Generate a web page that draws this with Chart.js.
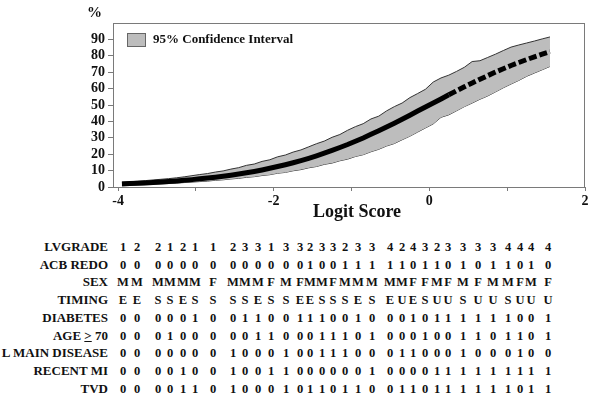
<!DOCTYPE html>
<html>
<head>
<meta charset="utf-8">
<script src="https://cdn.jsdelivr.net/npm/chart.js@4.4.0/dist/chart.umd.min.js"></script>
<style>
  body { margin: 0; background: #fff; }
  #page { position: relative; width: 600px; height: 402px; overflow: hidden;
          font-family: 'Liberation Serif', 'Times New Roman', serif; font-weight: bold; color: #111; }
  #chartBox { position: absolute; left: 0; top: 0; width: 600px; height: 230px; }
  .txt { position: absolute; white-space: nowrap; }
  .legendBox { position: absolute; left: 127px; top: 33px; width: 17px; height: 12px;
               background: #bdbdbd; border: 1px solid #666; }
  .rowLabel { position: absolute; right: 492px; font-size: 13px; line-height: 16px; white-space: nowrap; }
  .cell { position: absolute; width: 16px; margin-left: -8px; text-align: center;
          font-size: 12.5px; line-height: 16px; }
</style>
</head>
<body>
<div id="page">
  <div id="chartBox"><canvas id="logitChart"></canvas></div>
  <div class="txt" style="left:87px; top:4px; font-size:15px;">%</div>
  <div class="legendBox"></div>
  <div class="txt" style="left:153px; top:31px; font-size:13px;">95% Confidence Interval</div>
  <div class="txt" style="left:357px; top:201px; font-size:18px; transform:translateX(-50%);">Logit Score</div>
  <div id="table"></div>
</div>
<script>
// logit score positions of the plotted estimates
const logit = [-3.95,-3.85,-3.75,-3.65,-3.55,-3.45,-3.35,-3.25,-3.15,-3.05,
  -2.95,-2.85,-2.75,-2.65,-2.55,-2.45,-2.35,-2.25,-2.15,-2.05,
  -1.95,-1.85,-1.75,-1.65,-1.55,-1.45,-1.35,-1.25,-1.15,-1.05,
  -0.95,-0.85,-0.75,-0.65,-0.55,-0.45,-0.35,-0.25,-0.15,-0.05,
  0.05,0.15,0.25,0.35,0.45,0.55,0.65,0.75,0.85,0.95,
  1.05,1.15,1.25,1.35,1.45,1.55];
// predicted mortality (%)
const meanPct = [1.9,2.1,2.3,2.5,2.8,3.1,3.4,3.7,4.1,4.5,
  5.0,5.5,6.0,6.6,7.2,7.9,8.7,9.5,10.4,11.4,
  12.5,13.6,14.8,16.1,17.5,19.0,20.6,22.3,24.1,25.9,
  27.9,29.9,32.1,34.3,36.6,38.9,41.3,43.8,46.3,48.8,
  51.2,53.7,56.2,58.7,61.1,63.4,65.7,67.9,70.1,72.1,
  74.1,75.9,77.7,79.4,81.0,82.5];
// 95% confidence interval, upper and lower edge (%)
const upperPct = [3.0,3.2,3.5,3.9,4.3,4.7,5.1,5.6,6.2,6.9,
  7.6,8.2,9.1,9.8,10.9,11.8,13.2,14.0,15.6,16.6,
  18.4,19.5,21.3,22.6,24.5,26.4,28.0,30.3,32.0,34.6,
  36.8,38.6,41.5,43.2,46.4,49.0,51.2,54.5,57.0,59.6,
  64.0,66.5,68.2,70.5,73.0,76.5,77.0,79.0,81.0,83.2,
  85.3,86.6,87.8,89.0,90.3,91.5];
const lowerPct = [0.9,1.1,1.3,1.5,1.7,1.9,2.1,2.4,2.7,3.0,
  3.3,3.6,4.1,4.4,4.9,5.3,5.9,6.3,7.0,7.5,
  8.4,8.9,9.9,10.6,11.7,12.5,13.8,14.6,16.0,17.0,
  18.6,19.7,21.5,23.0,25.0,26.5,28.8,31.0,33.5,36.0,
  38.5,42.5,44.0,46.5,49.0,51.2,53.5,55.5,58.0,60.5,
  62.8,65.0,67.5,69.5,71.5,73.5];

const xTicks = [-4, -3, -2, -1, 0, 1, 2];
const xTickLabels = ['-4', '', '-2', '', '0', '', '2'];
const yTicks = [0, 10, 20, 30, 40, 50, 60, 70, 80, 90];

// patient profile table under the chart
const rowNames = ['LVGRADE', 'ACB REDO', 'SEX', 'TIMING', 'DIABETES', 'AGE \u2265 70', 'L MAIN DISEASE', 'RECENT MI', 'TVD'];
const lvgrade  = [1,2,2,1,2,1,1,2,3,3,1,3,3,2,3,3,2,3,3,4,2,4,3,2,3,3,3,3,4,4,4,4];
const acbRedo  = [0,0,0,0,0,0,0,0,0,0,0,0,0,1,0,0,1,1,1,1,1,0,1,1,0,1,0,1,1,0,1,0];
const sex      = ['M','M','M','M','M','M','F','M','M','M','F','M','F','M','M','F','M','M','M','M','M','F','F','M','F','M','F','M','M','F','M','F'];
const timing   = ['E','E','S','S','E','S','S','S','S','E','S','S','E','E','S','S','S','E','S','E','U','E','S','U','U','S','U','U','S','U','U','U'];
const diabetes = [0,0,0,0,0,1,0,0,1,1,0,0,1,1,1,0,0,1,0,0,0,1,0,1,1,1,1,1,1,0,0,1];
const age70    = [0,0,0,1,0,0,0,0,0,1,1,0,0,0,1,1,1,0,1,0,0,0,1,0,0,1,1,0,1,1,0,1];
const lMain    = [0,0,0,0,0,0,0,1,0,0,0,1,0,0,1,1,1,0,0,0,1,1,0,0,0,1,0,0,0,1,0,0];
const recentMi = [0,0,0,0,1,0,0,1,0,0,1,1,0,0,0,0,0,0,1,0,0,0,0,1,1,1,1,1,1,1,1,1];
const tvd      = [0,0,0,0,1,1,0,1,0,0,0,1,0,1,1,0,1,1,0,0,1,1,0,1,1,1,1,1,1,0,1,1];

// layout of the table (pixels)
const colX = [123,137,158,170,183,195,213,233,245,258,271,286,
  300,310,322,333,345,358,372,390,402,413,425,437,448,463,478,493,508,520,531,548];
const rowTop = 247, rowStep = 17.7;

const rows = [lvgrade, acbRedo, sex, timing, diabetes, age70, lMain, recentMi, tvd];
const table = document.getElementById('table');
rows.forEach((vals, r) => {
  const y = rowTop + r * rowStep - 8;
  const lab = document.createElement('div');
  lab.className = 'rowLabel';
  lab.style.top = y + 'px';
  if (r === 5) lab.innerHTML = 'AGE <span style="text-decoration:underline">&gt;</span> 70';
  else lab.textContent = rowNames[r];
  table.appendChild(lab);
  vals.forEach((v, i) => {
    const c = document.createElement('div');
    c.className = 'cell';
    c.style.left = colX[i] + 'px';
    c.style.top = y + 'px';
    c.textContent = v;
    table.appendChild(c);
  });
});

const pts = arr => logit.map((x, i) => ({ x: x, y: arr[i] }));

// gray frame round the plot area
const frame = {
  id: 'frame',
  afterDraw(chart) {
    const { ctx, chartArea: a } = chart;
    ctx.save();
    ctx.strokeStyle = '#7a7a7a';
    ctx.lineWidth = 1;
    ctx.strokeRect(a.left + 0.5, a.top + 0.5, a.right - a.left - 1, a.bottom - a.top);
    ctx.restore();
  }
};

const serif = { family: "'Liberation Serif', 'Times New Roman', serif", weight: 'bold', size: 14 };

new Chart(document.getElementById('logitChart'), {
  type: 'line',
  data: {
    datasets: [
      {
        label: '95% Confidence Interval',
        data: pts(upperPct),
        borderColor: '#333',
        borderWidth: 1,
        backgroundColor: '#bdbdbd',
        fill: '+1',
        pointRadius: 0,
        order: 2
      },
      {
        label: 'lower',
        data: pts(lowerPct),
        borderColor: '#333',
        borderWidth: 1,
        fill: false,
        pointRadius: 0,
        order: 2
      },
      {
        label: 'estimate',
        data: pts(meanPct),
        borderColor: '#000',
        borderWidth: 5,
        borderCapStyle: 'butt',
        fill: false,
        pointRadius: 0,
        order: 0,
        segment: {
          borderDash: ctx => ctx.p0.parsed.x >= 0.2 ? [8, 3] : undefined
        }
      }
    ]
  },
  options: {
    responsive: true,
    maintainAspectRatio: false,
    animation: false,
    layout: { padding: { left: 0, top: 23, right: 15, bottom: 22 } },
    plugins: { legend: { display: false }, tooltip: { enabled: false } },
    scales: {
      x: {
        type: 'linear',
        min: -4.065,
        max: 2,
        afterBuildTicks: s => { s.ticks = xTicks.map(v => ({ value: v })); },
        afterFit: s => { s.height = 21; },
        grid: { drawOnChartArea: false, drawTicks: true, tickLength: 4, color: '#7a7a7a' },
        border: { color: '#7a7a7a' },
        ticks: {
          color: '#111', font: serif, padding: 2, maxRotation: 0, autoSkip: false,
          callback: v => xTickLabels[xTicks.indexOf(v)]
        }
      },
      y: {
        min: 0,
        max: 100,
        afterBuildTicks: s => { s.ticks = yTicks.map(v => ({ value: v })); },
        afterFit: s => { s.width = 113; },
        grid: { drawOnChartArea: false, drawTicks: true, tickLength: 5, color: '#7a7a7a' },
        border: { color: '#7a7a7a' },
        ticks: { color: '#111', font: serif, padding: 3, autoSkip: false }
      }
    }
  },
  plugins: [frame]
});
</script>
</body>
</html>
